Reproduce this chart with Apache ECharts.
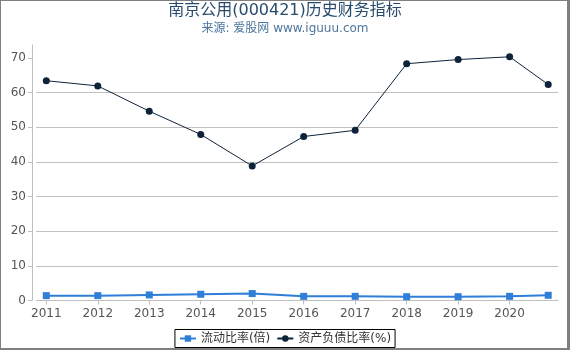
<!DOCTYPE html>
<html><head><meta charset="utf-8">
<script src="https://cdn.jsdelivr.net/npm/echarts@6/dist/echarts.min.js"></script>
<style>
html,body{margin:0;padding:0;background:#fff}
#c{position:absolute;left:0;top:0;width:570px;height:350px}
#f{position:absolute;left:0;top:0;width:570px;height:350px;box-sizing:border-box;border-style:solid;border-color:#808080;border-width:1px 3px 2px 1px;pointer-events:none}
</style></head><body><div id="c"></div><div id="f"></div>
<script>
const titleText = '南京公用(000421)历史财务指标';
const subText = '来源: 爱股网 www.iguuu.com';
const periods = [2011, 2012, 2013, 2014, 2015, 2016, 2017, 2018, 2019, 2020, 2020.75];
const yearLabels = [2011, 2012, 2013, 2014, 2015, 2016, 2017, 2018, 2019, 2020];
const yLabels = [0, 10, 20, 30, 40, 50, 60, 70];
const seriesNames = ['流动比率(倍)', '资产负债比率(%)'];
const currentRatio = [1.4, 1.4, 1.6, 1.8, 2.0, 1.2, 1.2, 1.1, 1.1, 1.2, 1.5];
const debtRatio = [63.4, 61.9, 54.6, 47.9, 38.8, 47.3, 49.1, 68.3, 69.5, 70.3, 62.3];

const font = '"DejaVu Sans", "Noto Sans CJK SC", sans-serif';
const chart = echarts.init(document.getElementById('c'), null, {renderer: 'canvas'});
chart.setOption({
  animation: false,
  textStyle: {fontFamily: font},
  title: {
    text: titleText, subtext: subText, left: 'center', top: 3, padding: 0, itemGap: 4,
    textStyle: {fontSize: 16, fontWeight: 'normal', color: '#274b6d', fontFamily: font},
    subtextStyle: {fontSize: 12, color: '#4d759e', fontFamily: font}
  },
  legend: {
    bottom: 2.5, left: 'center', orient: 'horizontal',
    borderColor: '#000', borderWidth: 1, borderRadius: 0, padding: [3, 4],
    itemWidth: 16, itemHeight: 8, itemGap: 6,
    textStyle: {fontSize: 12, color: '#333', fontFamily: font}
  },
  grid: {left: 36, right: 12, top: 45, bottom: 49.5, containLabel: false},
  xAxis: {
    type: 'value', min: 2010.8, max: 2020.94, offset: 3.5,
    axisLine: {show: true, lineStyle: {color: '#c0c0c0', width: 1}},
    axisTick: {show: true, length: 4, customValues: yearLabels, lineStyle: {color: '#c0c0c0'}},
    axisLabel: {customValues: yearLabels, formatter: v => String(Math.round(v)), color: '#555', fontSize: 12, margin: 4},
    splitLine: {show: false}
  },
  yAxis: {
    type: 'value', min: 0, max: 73.7, interval: 10, offset: 4,
    axisLine: {show: true, lineStyle: {color: '#c0c0c0', width: 1}},
    axisTick: {show: true, length: 4, customValues: yLabels, lineStyle: {color: '#c0c0c0'}},
    axisLabel: {customValues: yLabels, color: '#555', fontSize: 12, margin: 6},
    splitLine: {show: true, showMinLine: false, showMaxLine: false, lineStyle: {color: '#c0c0c0', width: 1}}
  },
  series: [
    {
      name: seriesNames[0], type: 'line', symbol: 'rect', symbolSize: 7,
      data: periods.map((p, i) => [p, currentRatio[i]]),
      lineStyle: {color: '#2f7ed8', width: 2}, itemStyle: {color: '#2f7ed8'}
    },
    {
      name: seriesNames[1], type: 'line', symbol: 'circle', symbolSize: 7,
      data: periods.map((p, i) => [p, debtRatio[i]]),
      lineStyle: {color: '#0d233a', width: 1}, itemStyle: {color: '#0d233a'}
    }
  ]
});
</script></body></html>
